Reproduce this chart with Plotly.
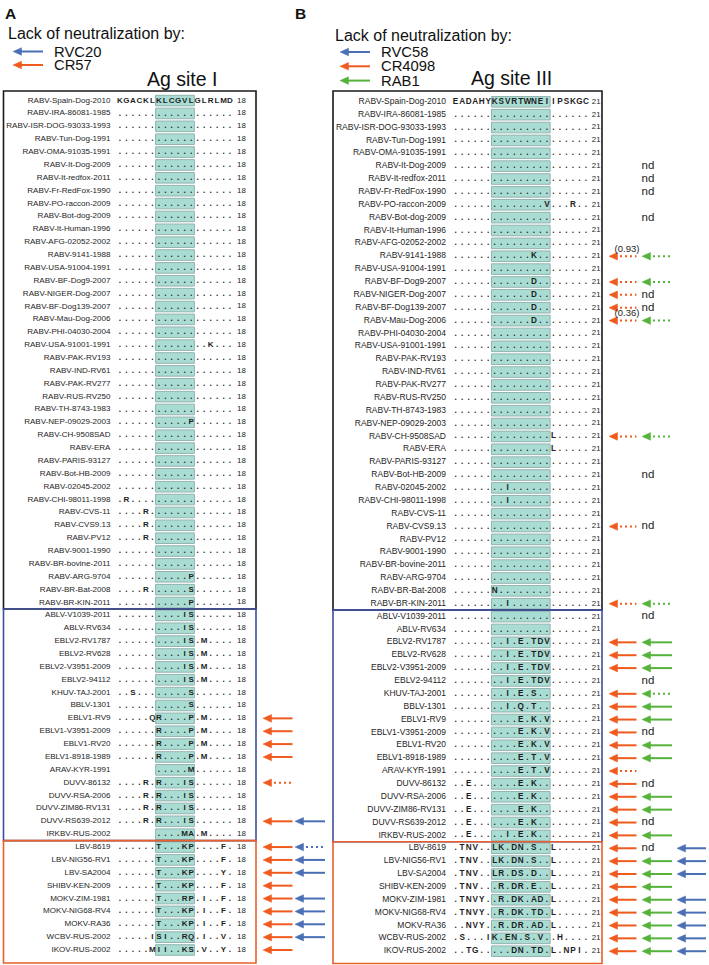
import plotly.graph_objects as go

W, H = 709, 965

# ---------------- data ----------------
strains = [
    "RABV-Spain-Dog-2010", "RABV-IRA-86081-1985", "RABV-ISR-DOG-93033-1993", "RABV-Tun-Dog-1991",
    "RABV-OMA-91035-1991", "RABV-It-Dog-2009", "RABV-It-redfox-2011", "RABV-Fr-RedFox-1990",
    "RABV-PO-raccon-2009", "RABV-Bot-dog-2009", "RABV-It-Human-1996", "RABV-AFG-02052-2002",
    "RABV-9141-1988", "RABV-USA-91004-1991", "RABV-BF-Dog9-2007", "RABV-NIGER-Dog-2007",
    "RABV-BF-Dog139-2007", "RABV-Mau-Dog-2006", "RABV-PHI-04030-2004", "RABV-USA-91001-1991",
    "RABV-PAK-RV193", "RABV-IND-RV61", "RABV-PAK-RV277", "RABV-RUS-RV250", "RABV-TH-8743-1983",
    "RABV-NEP-09029-2003", "RABV-CH-9508SAD", "RABV-ERA", "RABV-PARIS-93127", "RABV-Bot-HB-2009",
    "RABV-02045-2002", "RABV-CHI-98011-1998", "RABV-CVS-11", "RABV-CVS9.13", "RABV-PV12",
    "RABV-9001-1990", "RABV-BR-bovine-2011", "RABV-ARG-9704", "RABV-BR-Bat-2008", "RABV-BR-KIN-2011",
    "ABLV-V1039-2011", "ABLV-RV634", "EBLV2-RV1787", "EBLV2-RV628", "EBLV2-V3951-2009",
    "EBLV2-94112", "KHUV-TAJ-2001", "BBLV-1301", "EBLV1-RV9", "EBLV1-V3951-2009", "EBLV1-RV20",
    "EBLV1-8918-1989", "ARAV-KYR-1991", "DUVV-86132", "DUVV-RSA-2006", "DUVV-ZIM86-RV131",
    "DUVV-RS639-2012", "IRKBV-RUS-2002",
    "LBV-8619", "LBV-NIG56-RV1", "LBV-SA2004", "SHIBV-KEN-2009", "MOKV-ZIM-1981",
    "MOKV-NIG68-RV4", "MOKV-RA36", "WCBV-RUS-2002", "IKOV-RUS-2002",
]
group_ends = [40, 58, 67]   # RABV | other phylogroup I | phylogroup II-III

site1_seqs = [
    "KGACKLKLCGVLGLRLMD",
    "..................", "..................", "..................", "..................",
    "..................", "..................", "..................", "..................",
    "..................", "..................", "..................", "..................",
    "..................", "..................", "..................", "..................",
    "..................", "..................", "..............K...", "..................",
    "..................", "..................", "..................", "..................",
    "...........P......", "..................", "..................", "..................",
    "..................", "..................", ".R................", "....R.............",
    "....R.............", "....R.............", "..................", "..................",
    "...........P......", "....R......S......", "...........P......",
    "..........IS......", "..........IS......", "..........IS.M....", "..........IS.M....",
    "..........IS.M....", "..........IS.M....", "..S........S......", "...........S......",
    ".....QR....P.M....", "......R....P.M....", "......R....P.M....", "......R....P.M....",
    "      .....M......", "....R.R...IS......", "....R.R...IS......", "....R.R...IS......",
    "....R.R...IS......", "      ....MA.M....",
    "......T...KP....F.", "......T...KP....F.", "......T...KP....Y.", "......T...KP....F.",
    "......T...RP.I..F.", "......T...KP.I..F.", "......T...KP.I..F.", ".....ISI..RQ.I..V.",
    ".....MII..KS.V..Y.",
]
site3_seqs = [
    "EADAHYKSVRTWNEIIPSKGC",
    ".....................", ".....................", ".....................", ".....................",
    ".....................", ".....................", ".....................", "..............V...R..",
    ".....................", ".....................", ".....................", "............K........",
    ".....................", "............D........", "............D........", "............D........",
    "............D........", ".....................", ".....................", ".....................",
    ".....................", ".....................", ".....................", ".....................",
    ".....................", "...............L.....", "...............L.....", ".....................",
    ".....................", "........I............", "........I............", ".....................",
    ".....................", ".....................", ".....................", ".....................",
    ".....................", "......N..............", "........I............",
    ".....................", ".....................", "........I.E.TDV......", "........I.E.TDV......",
    "........I.E.TDV......", "........I.E.TDV......", "........I.E.S........", "........I.Q.T........",
    "..........E.K.V......", "..........E.K.V......", "..........E.K.V......", "..........E.T.V......",
    "..........E.T.V......", "..E.......E.K........", "..E.......E.K........", "..E.......E.K........",
    "..E.......E.K........", "..E.....I.E.K........",
    ".TNV..LK.DN.S..L.....", ".TNV..LK.DN.S..L.....", ".TNV..LR.DS.D..L.....", ".TNV...R.DR.E..L.....",
    ".TNVY..R.DK.AD.L.....", ".TNVY..R.DK.TD.L.....", "..NVY..R.DR.AD.L.....", ".S...IK.EN.S.V..H....",
    "..TG.....DN.TD.L.NPI.",
]
site1_len, site3_len = 18, 21
site1_box = (7, 12)    # highlighted residues (1-based, inclusive)
site3_box = (7, 15)

# lack of neutralization (solid = no neutralization, dot = partial, nd = not done)
A_CR57 = {"EBLV1-RV9": "solid", "EBLV1-V3951-2009": "solid", "EBLV1-RV20": "solid",
          "EBLV1-8918-1989": "solid", "DUVV-86132": "dot", "DUVV-RS639-2012": "solid",
          "LBV-8619": "solid", "LBV-NIG56-RV1": "solid", "LBV-SA2004": "solid",
          "SHIBV-KEN-2009": "solid", "MOKV-ZIM-1981": "solid", "MOKV-NIG68-RV4": "solid",
          "MOKV-RA36": "solid", "WCBV-RUS-2002": "solid", "IKOV-RUS-2002": "solid"}
A_RVC20 = {"DUVV-RS639-2012": "solid", "LBV-8619": "dot", "LBV-NIG56-RV1": "solid",
           "LBV-SA2004": "solid", "MOKV-ZIM-1981": "solid", "MOKV-NIG68-RV4": "solid",
           "MOKV-RA36": "solid", "WCBV-RUS-2002": "solid"}
B_CR4098 = {"RABV-9141-1988": "dot", "RABV-BF-Dog9-2007": "dot", "RABV-NIGER-Dog-2007": "dot",
            "RABV-BF-Dog139-2007": "dot", "RABV-Mau-Dog-2006": "dot", "RABV-CH-9508SAD": "dot",
            "RABV-CVS9.13": "dot", "RABV-BR-KIN-2011": "dot",
            "EBLV2-RV1787": "solid", "EBLV2-RV628": "solid", "EBLV2-V3951-2009": "solid",
            "KHUV-TAJ-2001": "solid", "BBLV-1301": "solid", "EBLV1-RV9": "solid",
            "EBLV1-V3951-2009": "solid", "EBLV1-RV20": "solid", "EBLV1-8918-1989": "solid",
            "ARAV-KYR-1991": "dot", "DUVV-86132": "solid", "DUVV-RSA-2006": "solid",
            "DUVV-ZIM86-RV131": "solid", "DUVV-RS639-2012": "solid", "IRKBV-RUS-2002": "solid",
            "LBV-8619": "solid", "LBV-NIG56-RV1": "solid", "LBV-SA2004": "solid",
            "SHIBV-KEN-2009": "solid", "MOKV-ZIM-1981": "solid", "MOKV-NIG68-RV4": "solid",
            "MOKV-RA36": "solid", "WCBV-RUS-2002": "solid", "IKOV-RUS-2002": "solid"}
B_RAB1 = {"RABV-It-Dog-2009": "nd", "RABV-It-redfox-2011": "nd", "RABV-Fr-RedFox-1990": "nd",
          "RABV-Bot-dog-2009": "nd", "RABV-9141-1988": "dot", "RABV-BF-Dog9-2007": "dot",
          "RABV-NIGER-Dog-2007": "nd", "RABV-BF-Dog139-2007": "nd", "RABV-Mau-Dog-2006": "dot",
          "RABV-CH-9508SAD": "dot", "RABV-Bot-HB-2009": "nd", "RABV-CVS9.13": "nd",
          "RABV-BR-KIN-2011": "dot", "ABLV-V1039-2011": "nd", "EBLV2-RV1787": "solid",
          "EBLV2-RV628": "solid", "EBLV2-V3951-2009": "solid", "EBLV2-94112": "nd",
          "KHUV-TAJ-2001": "dot", "BBLV-1301": "solid", "EBLV1-RV9": "solid",
          "EBLV1-V3951-2009": "nd", "EBLV1-RV20": "solid", "EBLV1-8918-1989": "solid",
          "DUVV-86132": "nd", "DUVV-RSA-2006": "solid", "DUVV-ZIM86-RV131": "solid",
          "DUVV-RS639-2012": "nd", "IRKBV-RUS-2002": "solid", "LBV-8619": "nd",
          "LBV-NIG56-RV1": "solid", "LBV-SA2004": "solid", "SHIBV-KEN-2009": "solid",
          "MOKV-ZIM-1981": "solid", "MOKV-NIG68-RV4": "solid", "MOKV-RA36": "solid",
          "WCBV-RUS-2002": "solid", "IKOV-RUS-2002": "solid"}
B_RVC58 = {"LBV-8619": "solid", "LBV-NIG56-RV1": "solid", "LBV-SA2004": "solid",
           "MOKV-ZIM-1981": "solid", "MOKV-NIG68-RV4": "solid", "MOKV-RA36": "solid",
           "WCBV-RUS-2002": "solid", "IKOV-RUS-2002": "solid"}
B_values = {"RABV-9141-1988": "(0.93)", "RABV-Mau-Dog-2006": "(0.36)"}

legend_A = ["RVC20", "CR57"]
legend_B = ["RVC58", "CR4098", "RAB1"]

# ---------------- style / layout ----------------
FONT = "Liberation Sans"
C_BLUE, C_ORANGE, C_GREEN = "#4a6fb5", "#ef5a1e", "#55b33b"
C_TEXT = "#1e1e1e"
C_BOX_FILL, C_BOX_LINE = "#a9ddd4", "#93b3ae"
GROUP_COLORS = ["#1a1a1a", "#3e4f9c", "#e8602a"]

PITCH_Y = 12.87
panels = {
    "A": dict(seqs=site1_seqs, L=site1_len, box=site1_box, y0=100.6, name_x=110.5, x0=120.0,
              dx=6.47, count_x=241.5, frame=(3.5, 256.0), top=91.0, bottom=963.0,
              name_size=8.05, res_size=8.0, count_size=7.9),
    "B": dict(seqs=site3_seqs, L=site3_len, box=site3_box, y0=101.8, name_x=446.0, x0=455.6,
              dx=6.52, count_x=596.2, frame=(333.0, 602.0), top=91.0, bottom=963.5,
              name_size=8.5, res_size=8.2, count_size=7.8),
}

fig = go.Figure()
shapes = []
annotations = []


def row_y(p, i):
    return p["y0"] + i * PITCH_Y


for key, p in panels.items():
    n = len(strains)
    ys = [row_y(p, i) for i in range(n)]
    b0, b1 = p["box"]
    bx0 = p["x0"] + (b0 - 1) * p["dx"] - p["dx"] / 2
    bw = (b1 - b0 + 1) * p["dx"]
    # highlighted antigenic-site boxes
    fig.add_trace(go.Bar(orientation="h", y=ys, x=[bw] * n, base=[bx0] * n, width=10.6,
                         marker=dict(color=C_BOX_FILL, line=dict(color=C_BOX_LINE, width=1)),
                         hoverinfo="skip", showlegend=False))
    # strain names
    fig.add_trace(go.Scatter(x=[p["name_x"]] * n, y=ys, mode="text", text=strains,
                             textposition="middle left",
                             textfont=dict(family=FONT, size=p["name_size"], color=C_TEXT),
                             hoverinfo="skip", showlegend=False))
    # residues
    lx, ly, lt, dxs, dys = [], [], [], [], []
    for i, s in enumerate(p["seqs"]):
        for k, ch in enumerate(s):
            x = p["x0"] + k * p["dx"]
            if ch == ".":
                dxs.append(x); dys.append(ys[i])
            elif ch != " ":
                lx.append(x); ly.append(ys[i]); lt.append(ch)
    fig.add_trace(go.Scatter(x=lx, y=ly, mode="text", text=lt, textposition="middle center",
                             textfont=dict(family=FONT, size=p["res_size"], color=C_TEXT, weight="bold"),
                             hoverinfo="skip", showlegend=False))
    fig.add_trace(go.Scatter(x=dxs, y=dys, mode="text", text=["."] * len(dxs),
                             textposition="middle center",
                             textfont=dict(family=FONT, size=8.2, color=C_TEXT, weight="bold"),
                             hoverinfo="skip", showlegend=False))
    fig.add_trace(go.Scatter(x=[p["count_x"]] * n, y=ys, mode="text", text=[str(p["L"])] * n,
                             textposition="middle center",
                             textfont=dict(family=FONT, size=p["count_size"], color=C_TEXT),
                             hoverinfo="skip", showlegend=False))
    # group frames
    fx0, fx1 = p["frame"]
    start_edge = p["top"]
    for gi, end in enumerate(group_ends):
        if end == n:
            edge = p["bottom"]
        else:
            edge = (row_y(p, end - 1) + row_y(p, end)) / 2
        shapes.append(dict(type="rect", xref="x", yref="y", x0=fx0, x1=fx1, y0=start_edge, y1=edge,
                           line=dict(color=GROUP_COLORS[gi], width=1.6), fillcolor="rgba(0,0,0,0)"))
        start_edge = edge

# ---------------- arrows ----------------
arrow_parts = {}


def add_arrow(color, tip, tail, y, style):
    d = arrow_parts.setdefault(color, dict(hx=[], hy=[], sx=[], sy=[], tx=[], ty=[]))
    hl, hh = 8.5, 3.8
    d["hx"] += [tip, tip + hl, tip + hl, tip, None]
    d["hy"] += [y, y - hh, y + hh, y, None]
    if style == "solid":
        d["sx"] += [tip + hl - 1, tail, None]
        d["sy"] += [y, y, None]
    else:
        d["tx"] += [tip + hl + 2.5, tail, None]
        d["ty"] += [y, y, None]


nd_x, nd_y = [], []
note_x, note_y, note_t = [], [], []

pA = panels["A"]
pB = panels["B"]
for i, name in enumerate(strains):
    yA = row_y(pA, i)
    if name in A_CR57:
        add_arrow(C_ORANGE, 263.0, 292.5, yA, A_CR57[name])
    if name in A_RVC20:
        add_arrow(C_BLUE, 295.0, 325.0, yA, A_RVC20[name])
    yB = row_y(pB, i)
    if name in B_CR4098:
        add_arrow(C_ORANGE, 609.0, 636.5, yB, B_CR4098[name])
    if name in B_RAB1:
        if B_RAB1[name] == "nd":
            nd_x.append(648.0); nd_y.append(yB)
        else:
            add_arrow(C_GREEN, 642.0, 672.0, yB, B_RAB1[name])
    if name in B_RVC58:
        add_arrow(C_BLUE, 677.0, 706.0, yB, B_RVC58[name])
    if name in B_values:
        note_x.append(627.0); note_y.append(yB - 6.5); note_t.append(B_values[name])

# legend arrows
for j, lab in enumerate(legend_A):
    add_arrow([C_BLUE, C_ORANGE][j], 13.0, 43.0, 51.5 + j * 13.5, "solid")
for j, lab in enumerate(legend_B):
    add_arrow([C_BLUE, C_ORANGE, C_GREEN][j], 340.0, 370.0, 52.0 + j * 14.3, "solid")

for color, d in arrow_parts.items():
    fig.add_trace(go.Scatter(x=d["sx"], y=d["sy"], mode="lines", line=dict(color=color, width=2),
                             hoverinfo="skip", showlegend=False))
    fig.add_trace(go.Scatter(x=d["tx"], y=d["ty"], mode="lines",
                             line=dict(color=color, width=2, dash="2px,3px"),
                             hoverinfo="skip", showlegend=False))
    fig.add_trace(go.Scatter(x=d["hx"], y=d["hy"], mode="lines", fill="toself", fillcolor=color,
                             line=dict(color=color, width=0.5), hoverinfo="skip", showlegend=False))

fig.add_trace(go.Scatter(x=nd_x, y=nd_y, mode="text", text=["nd"] * len(nd_x),
                         textposition="middle center",
                         textfont=dict(family=FONT, size=11.5, color=C_TEXT),
                         hoverinfo="skip", showlegend=False))
fig.add_trace(go.Scatter(x=note_x, y=note_y, mode="text", text=note_t, textposition="middle center",
                         textfont=dict(family=FONT, size=9.5, color=C_TEXT),
                         hoverinfo="skip", showlegend=False))


# ---------------- headers ----------------
def label(x, y, text, size, anchor="left", bold=False):
    annotations.append(dict(x=x, y=y, xref="x", yref="y", text=text, showarrow=False,
                            xanchor=anchor, yanchor="middle",
                            font=dict(family=FONT, size=size, color="#111",
                                      weight="bold" if bold else "normal")))


label(2.5, 13, "A", 15.5, bold=True)
label(292.5, 13, "B", 15.5, bold=True)
label(6, 33.5, "Lack of neutralization by:", 16)
label(332.5, 35, "Lack of neutralization by:", 16)
for j, lab in enumerate(legend_A):
    label(52, 51.5 + j * 13.5, lab, 14.8)
for j, lab in enumerate(legend_B):
    label(379, 52.0 + j * 14.3, lab, 14.8)
label(181.5, 79, "Ag site I", 19.5, anchor="center")
label(511, 78, "Ag site III", 19.5, anchor="center")

fig.update_layout(
    width=W, height=H, margin=dict(l=0, r=0, t=0, b=0),
    paper_bgcolor="white", plot_bgcolor="white", barmode="overlay",
    xaxis=dict(range=[0, W], visible=False, fixedrange=True),
    yaxis=dict(range=[H, 0], visible=False, fixedrange=True),
    shapes=shapes, annotations=annotations, showlegend=False,
)
fig.write_html("out.html", config={"displayModeBar": False},
               post_script="document.body.style.margin='0';document.body.style.padding='0';"
                           "document.body.style.overflow='hidden';")
